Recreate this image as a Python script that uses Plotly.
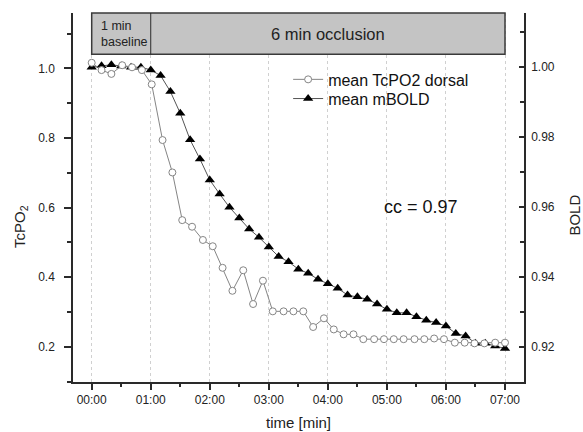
import plotly.graph_objects as go

# ---- data ----
t_tcpo2 = [0, 10, 20, 31, 41, 51, 61, 72, 82, 92, 102, 113, 123, 133, 143, 154, 164, 174, 184, 195,
           205, 215, 225, 236, 246, 256, 266, 276, 287, 297, 307, 317, 328, 338, 348, 358, 369, 379,
           389, 399, 410, 420]
tcpo2 = [1.016, 0.995, 0.984, 1.009, 1.003, 0.995, 0.954, 0.794, 0.701, 0.564,
         0.545, 0.507, 0.489, 0.427, 0.361, 0.420, 0.323, 0.390, 0.302, 0.302,
         0.302, 0.302, 0.257, 0.282, 0.250, 0.236, 0.236, 0.222, 0.222, 0.222,
         0.222, 0.222, 0.222, 0.222, 0.224, 0.222, 0.212, 0.212, 0.210, 0.210,
         0.212, 0.212]
t_bold = [0, 10, 20, 30, 40, 50, 60, 70, 80, 90, 100, 110, 120, 130, 140, 150, 160, 170, 180, 190,
          200, 210, 220, 230, 240, 250, 260, 270, 280, 290, 300, 310, 320, 330, 340, 350, 360, 370,
          380, 390, 400, 410, 420]
bold = [1.0000, 1.0004, 1.0007, 1.0003, 1.0000, 1.0000, 0.9992, 0.9976, 0.9930, 0.9868,
        0.9792, 0.9737, 0.9677, 0.9637, 0.9599, 0.9568, 0.9537, 0.9513, 0.9485, 0.9458,
        0.9443, 0.9422, 0.9410, 0.9393, 0.9380, 0.9367, 0.9348, 0.9343, 0.9336, 0.9322,
        0.9307, 0.9297, 0.9297, 0.9286, 0.9276, 0.9269, 0.9259, 0.9238, 0.9231, 0.9210,
        0.9210, 0.9202, 0.9195]
x_tickvals = [0, 60, 120, 180, 240, 300, 360, 420]
x_ticktext = ["00:00", "01:00", "02:00", "03:00", "04:00", "05:00", "06:00", "07:00"]
x_minor = [30, 90, 150, 210, 270, 330, 390]
baseline_end = 60
occlusion_end = 420

FONT = "Arial, Liberation Sans, sans-serif"
AX = "#2a2a2a"

fig = go.Figure()
fig.add_trace(go.Scatter(
    x=t_bold, y=bold, name="mean mBOLD", yaxis="y", mode="lines+markers",
    line=dict(color="#555555", width=1),
    marker=dict(symbol="triangle-up", size=9, color="black", line=dict(width=0)),
    legend="legend2"))
fig.add_trace(go.Scatter(
    x=t_tcpo2, y=tcpo2, name="mean TcPO2 dorsal", yaxis="y2", mode="lines+markers",
    line=dict(color="#858585", width=1),
    marker=dict(symbol="circle", size=7, color="white", line=dict(color="#858585", width=1)),
    legend="legend"))

leg_common = dict(xanchor="left", yanchor="top", font=dict(size=16, family=FONT, color="#111111"),
                  bgcolor="rgba(0,0,0,0)", itemwidth=30)

fig.update_layout(
    width=583, height=432,
    margin=dict(l=73, r=59, t=13, b=50),
    paper_bgcolor="white", plot_bgcolor="white",
    font=dict(family=FONT, size=12, color="#222222"),
    showlegend=True,
    legend=dict(x=0.477, y=0.866, **leg_common),
    legend2=dict(x=0.477, y=0.814, **leg_common),
    xaxis=dict(range=[-19, 439.3], tickmode="array", tickvals=x_tickvals, ticktext=x_ticktext,
               showgrid=True, gridcolor="#d0d0d0", griddash="dot", gridwidth=1,
               showline=True, linecolor=AX, linewidth=1.5, mirror=False,
               ticks="outside", ticklen=6, tickwidth=1.5, tickcolor=AX,
               minor=dict(tickmode="array", tickvals=x_minor,
                          ticks="outside", ticklen=3, tickwidth=1.5, tickcolor=AX, showgrid=False),
               tickfont=dict(size=12), zeroline=False),
    yaxis=dict(range=[0.9099, 1.0155], side="right", tick0=0.92, dtick=0.02, tickformat=".2f",
               showgrid=False, zeroline=False,
               showline=True, linecolor=AX, linewidth=1.5,
               ticks="inside", ticklen=5, tickwidth=1.5, tickcolor=AX,
               minor=dict(tick0=0.91, dtick=0.02, ticks="inside", ticklen=4, tickwidth=1.5,
                          tickcolor=AX, showgrid=False),
               ticklabelstandoff=3, tickfont=dict(size=12)),
    yaxis2=dict(range=[0.099, 1.159], side="left", overlaying="y", tick0=0, dtick=0.2,
                tickformat=".1f", showgrid=False, zeroline=False,
                showline=True, linecolor=AX, linewidth=1.5,
                ticks="outside", ticklen=7, tickwidth=1.5, tickcolor=AX,
                minor=dict(tick0=0.1, dtick=0.2, ticks="outside", ticklen=4, tickwidth=1.5,
                           tickcolor=AX, showgrid=False),
                ticklabelstandoff=7, tickfont=dict(size=12)),
)

# occlusion protocol box
fig.add_shape(type="rect", xref="x", yref="paper", x0=0, x1=occlusion_end, y0=0.888, y1=1.0,
              fillcolor="#c4c4c4", line=dict(color="#3a3a3a", width=1.5), layer="above")
fig.add_shape(type="line", xref="x", yref="paper", x0=baseline_end, x1=baseline_end, y0=0.888, y1=1.0,
              line=dict(color="#2a2a2a", width=1), layer="above")
fig.add_annotation(xref="x", yref="paper", x=0, y=0.944, xshift=7, xanchor="left", yanchor="middle",
                   text="1 min<br>baseline", showarrow=False, align="left",
                   font=dict(size=12.5, family=FONT, color="#222222"))
fig.add_annotation(xref="x", yref="paper", x=(baseline_end + occlusion_end) / 2, y=0.944,
                   xanchor="center", yanchor="middle", text="6 min occlusion", showarrow=False,
                   font=dict(size=16.5, family=FONT, color="#222222"))

fig.add_annotation(xref="paper", yref="paper", x=0.772, y=0.475, xanchor="center", yanchor="middle",
                   text="cc = 0.97", showarrow=False, font=dict(size=18, family=FONT, color="#111111"))

# axis titles
fig.add_annotation(xref="paper", yref="paper", x=0, y=0.42, xshift=-53, xanchor="center", yanchor="middle",
                   text="TcPO<sub>2</sub>", textangle=-90, showarrow=False,
                   font=dict(size=15, family=FONT, color="#222222"))
fig.add_annotation(xref="paper", yref="paper", x=1, y=0.451, xshift=51, xanchor="center", yanchor="middle",
                   text="BOLD", textangle=-90, showarrow=False,
                   font=dict(size=15, family=FONT, color="#222222"))
fig.add_annotation(xref="paper", yref="paper", x=0.5, y=-0.111, xanchor="center", yanchor="middle",
                   text="time [min]", showarrow=False,
                   font=dict(size=15, family=FONT, color="#222222"))

# remove the page's default 8px body margin so the figure sits at the window's corner
fig.write_html("out.html", config={"displayModeBar": False},
               post_script="document.body.style.margin='0';document.body.style.overflow='hidden';")
